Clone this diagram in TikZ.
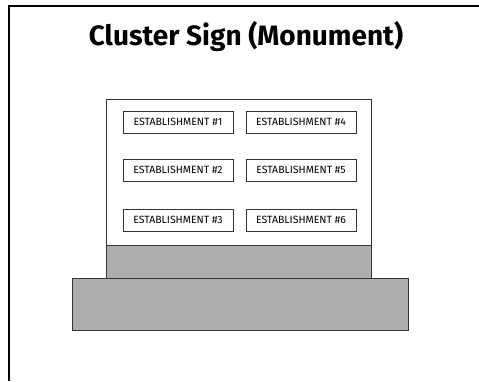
\documentclass[tikz,border=0pt]{standalone}
\usepackage{fontspec}
\setmainfont{Fira Sans}
\definecolor{signgray}{HTML}{AEAEAE}
\definecolor{edgegray}{HTML}{333333}
\begin{document}
\begin{tikzpicture}[x=1pt,y=1pt,
  part/.style={draw=edgegray,line width=1pt,inner sep=0pt,anchor=north west},
  estbox/.style={draw=edgegray,line width=0.9pt,fill=white,minimum width=110pt,minimum height=22pt,inner sep=0pt,font=\fontsize{10.5}{12}\selectfont},
  frameline/.style={line width=2pt,black}]
\useasboundingbox (0,0) rectangle (479,381);
% frame
\coordinate (ftr) at (479,374.5);
\coordinate (ftl) at (9,374.5);
\coordinate (fbl) at (9,0);
\draw[frameline] (ftr) -- (ftl) -- (fbl);
% title
\node (title) at (246,344) {\fontsize{28}{32}\selectfont\bfseries Cluster Sign (Monument)};
% base
\node[part,fill=signgray,minimum width=336pt,minimum height=52pt] (base) at (72,103) {};
% gray band
\node[part,fill=signgray,minimum width=265pt,minimum height=33pt] (band) at (106,136) {};
% sign panel
\node[part,fill=white,minimum width=265pt,minimum height=146pt] (panel) at (106,282) {};
% establishments
\node[estbox] (e1) at (178,259) {ESTABLISHMENT \#1};
\node[estbox] (e2) at (178,211) {ESTABLISHMENT \#2};
\node[estbox] (e3) at (178,161) {ESTABLISHMENT \#3};
\node[estbox] (e4) at (301,259) {ESTABLISHMENT \#4};
\node[estbox] (e5) at (301,211) {ESTABLISHMENT \#5};
\node[estbox] (e6) at (301,161) {ESTABLISHMENT \#6};
\end{tikzpicture}
\end{document}
